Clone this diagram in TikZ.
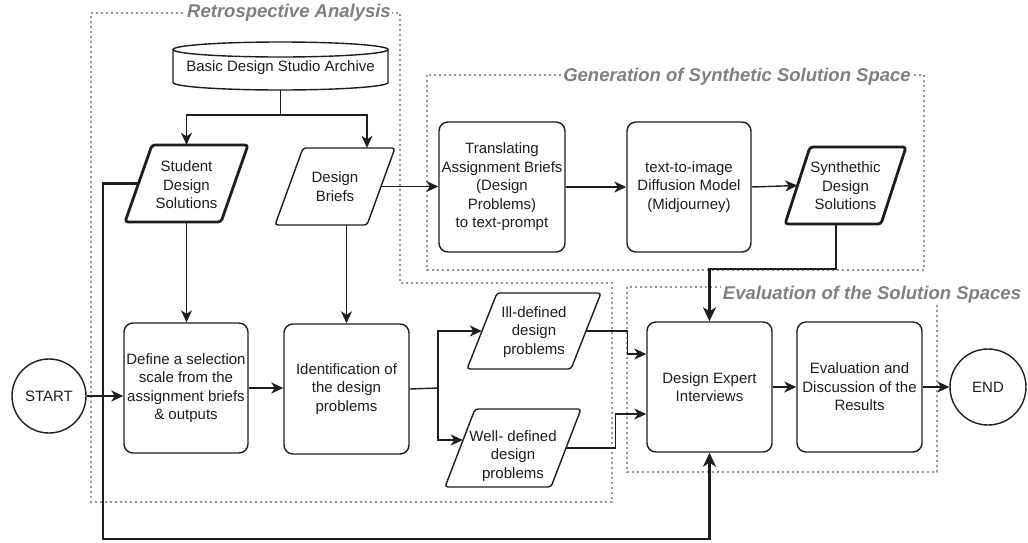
\documentclass[tikz,border=0pt]{standalone}
\usepackage{fontspec}
\setmainfont{Liberation Sans}
\usetikzlibrary{arrows.meta,calc}
\definecolor{ln}{RGB}{30,30,30}
\definecolor{dotc}{RGB}{150,150,150}
\definecolor{ttl}{RGB}{128,128,128}
\newcommand{\bodyfont}{\fontsize{15}{18.5}\selectfont}
% #1 name, #2 cx, #3 cy, #4 half width, #5 half height, #6 half slant, #7 style, #8 text yshift, #9 text
\newcommand{\mypara}[9]{%
  \node[inner sep=0pt, minimum width={2*#4}, minimum height={2*#5}] (#1) at (#2,#3) {};
  \draw[#7, rounded corners=3pt] ({#2-#4+#6},{#3-#5}) -- ({#2+#4+#6},{#3-#5}) -- ({#2+#4-#6},{#3+#5}) -- ({#2-#4-#6},{#3+#5}) -- cycle;
  \node[align=center, font=\bodyfont, inner sep=0pt] (#1-txt) at (#2,{#3+#8}) {#9};
}
\begin{document}
\begin{tikzpicture}[x=1pt,y=-1pt,
  every node/.style={text=ln},
  box/.style={draw=ln, line width=1.4pt, rounded corners=9pt, align=center, font=\bodyfont, inner sep=0pt, minimum width=125pt, minimum height=130pt},
  term/.style={draw=ln, line width=1.4pt, circle, font=\bodyfont, inner sep=0pt},
  conn/.style={draw=ln, line width=1.4pt},
  arr/.style={conn, -{Stealth[length=12pt,width=11pt,inset=3.5pt]}},
  thk/.style={draw=ln, line width=2.8pt},
  thkarr/.style={thk, -{Stealth[length=14pt,width=13pt,inset=4pt]}},
  region/.style={draw=dotc, line width=1.8pt, dash pattern=on 1.8pt off 3.2pt},
  rtitle/.style={font=\fontsize{18.5}{20}\selectfont\bfseries\itshape, text=ttl, fill=white, inner sep=1.5pt}
]
\useasboundingbox (0,0) rectangle (1028,542);
\fill[white] (0,0) rectangle (1028,542);

% regions
\draw[region] (91,13) -- (400,13) -- (400,283) -- (612,283) -- (612,502) -- (91,502) -- cycle;
\node[rtitle] (t1) at (289,13) {Retrospective Analysis};
\draw[region] (427,75) rectangle (924,270);
\node[rtitle] (t2) at (737,77) {Generation of Synthetic Solution Space};
\draw[region] (627,287) rectangle (937,472);
\node[rtitle] (t3) at (872,295) {Evaluation of the Solution Spaces};

% archive cylinder
\node[inner sep=0pt, minimum width=215pt, minimum height=48pt, font=\bodyfont] (arch) at (280.5,66) {};
\draw[ln, line width=1.4pt] (173,49.5) -- (173,82.5) arc[start angle=180, end angle=360, x radius=107.5pt, y radius=7.5pt] -- (388,49.5);
\draw[ln, line width=1.4pt] (280.5,49.5) ellipse [x radius=107.5pt, y radius=7.5pt];
\node[font=\bodyfont, inner sep=0pt] (arch-txt) at (280.5,68) {Basic Design Studio Archive};

% parallelograms
\mypara{sds}{186.5}{183.5}{48}{38.5}{13.5}{draw=ln, line width=2.8pt}{1.5}{Student\\Design\\Solutions}
\mypara{db}{335}{186.5}{46}{38.5}{14}{draw=ln, line width=1.4pt}{0}{Design\\Briefs}
\mypara{syn}{845.5}{185.5}{48}{38.5}{12.5}{draw=ln, line width=2.8pt}{0.5}{Synthethic\\Design\\Solutions}
\mypara{ill}{534}{331}{52}{38}{15}{draw=ln, line width=1.4pt}{1}{Ill-defined\\design\\problems}
\mypara{wel}{513}{448}{53}{39}{15}{draw=ln, line width=1.4pt}{8}{Well- defined\\design\\problems}

% boxes
\node[box, minimum width=126pt] (tr) at (502,187) {Translating\\Assignment Briefs\\(Design\\Problems)\\to text-prompt};
\node[box, minimum width=124pt] (tti) at (689,187) {text-to-image\\Diffusion Model\\(Midjourney)};
\node[box, minimum width=124pt] (def) at (186,388) {Define a selection\\scale from the\\assignment briefs\\\& outputs};
\node[box] (idn) at (346.5,389) {Identification of\\the design\\problems};
\node[box] (dei) at (709.5,387) {Design Expert\\Interviews};
\node[box] (eva) at (859.5,387) {Evaluation and\\Discussion of the\\Results};
\node[term, minimum size=74pt] (start) at (49,396) {START};
\node[term, minimum size=76pt] (end) at (988,387) {END};

% connectors
\coordinate (fork) at (280.5,115);
\draw[conn] (arch.south) -- (fork);
\draw[arr] (fork) -| (sds.north);
\draw[arr] (fork) -| ($(db.north)+(32,0)$);
\draw[arr] (sds.south) -- (sds.south |- def.north);
\draw[arr] (db.south -| idn.north) -- (idn.north);
\draw[arr] (db.east) -- (db.east -| tr.west);
\draw[arr] (tr.east) -- (tr.east -| tti.west);
\draw[arr] (tti.east) -- (syn.west);
\coordinate (synturn) at (836,269);
\draw[thkarr] (syn.south -| synturn) -- (synturn) -| (dei.north);
\draw[arr] (start.east) -- (start.east -| def.west);
\draw[arr] (def.east) -- (def.east -| idn.west);
\coordinate (split) at (438,388);
\draw[conn] (idn.east) -- (split);
\draw[arr] (split) |- (ill.west);
\draw[arr] (split) |- ($(wel.west)+(3,-8)$);
\draw[arr] (ill.east) -- ++(41,0) |- ($(dei.west)+(0,-33)$);
\draw[arr] (wel.east) -- ++(49,0) |- ($(dei.west)+(0,27)$);
\draw[arr] (dei.east) -- (eva.west);
\draw[arr] (eva.east) -- (end.west);
\coordinate (bl) at (103,539);
\draw[thkarr] (sds.west) -| (bl) -| (dei.south);
\end{tikzpicture}
\end{document}
